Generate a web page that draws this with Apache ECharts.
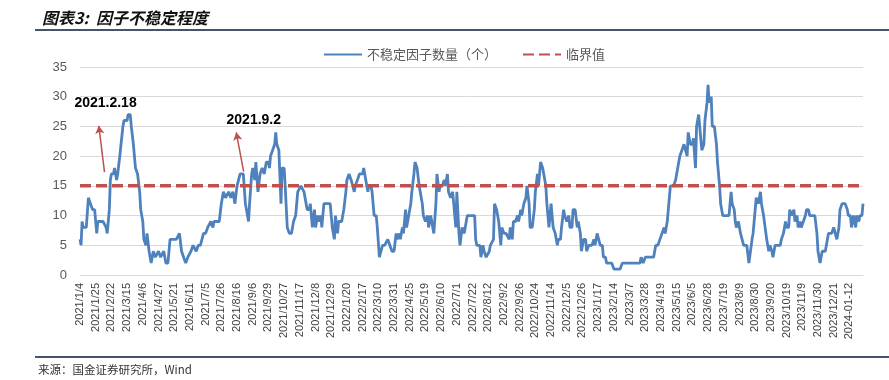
<!DOCTYPE html>
<html>
<head>
<meta charset="utf-8">
<script src="https://cdn.jsdelivr.net/npm/echarts@6/dist/echarts.min.js"></script>
<style>
  html, body { margin: 0; padding: 0; background: #fff; }
  #chart { width: 889px; height: 380px; }
</style>
</head>
<body>
<div id="chart"></div>
<script>
// x-axis tick labels, one every 15 trading days
var tickLabels = [
    '2021/1/4', '2021/1/25', '2021/2/22', '2021/3/15', '2021/4/6', '2021/4/27', '2021/5/21',
    '2021/6/11', '2021/7/5', '2021/7/26', '2021/8/16', '2021/9/6', '2021/9/29', '2021/10/27',
    '2021/11/17', '2021/12/8', '2021/12/29', '2022/1/20', '2022/2/17', '2022/3/10', '2022/3/31',
    '2022/4/25', '2022/5/19', '2022/6/10', '2022/7/1', '2022/7/22', '2022/8/12', '2022/9/2',
    '2022/9/26', '2022/10/24', '2022/11/14', '2022/12/5', '2022/12/26', '2023/1/17', '2023/2/14',
    '2023/3/7', '2023/3/28', '2023/4/19', '2023/5/15', '2023/6/5', '2023/6/28', '2023/7/19',
    '2023/8/9', '2023/8/30', '2023/9/20', '2023/10/19', '2023/11/9', '2023/11/30', '2023/12/21',
    '2024-01-12'
];
var tickStep = 15;

// trading-day index (from 2021/1/4) and number of unstable factors
var dayIdx = [
    0, 1, 2, 3, 6, 8, 10, 12, 14, 16, 17, 20, 22, 25, 26, 28, 29, 30, 32, 33, 35, 36, 38, 41, 42, 45, 46, 48, 49,
    51, 53, 55, 57, 58, 60, 61, 63, 64, 66, 68, 70, 72, 75, 77, 80, 82, 84, 86, 88, 92, 95, 97, 99,
    101, 103, 106, 108, 111, 113, 115, 118, 120, 122, 125, 127, 128, 131, 133, 135, 137, 139, 142, 144, 146, 148,
    150, 153, 156, 158, 159, 161, 162, 164, 165, 167, 168, 170, 172, 174, 176, 178, 180, 181, 182, 184, 186, 187, 188, 190,
    192, 193, 195, 196, 198, 200, 202, 204, 206, 208, 209, 211, 212, 214, 216, 217, 219, 220, 222, 224, 225, 227, 228,
    230, 231, 233, 235, 237, 239, 241, 243, 244, 246, 247, 250, 252, 254, 255, 257, 259, 260, 262, 263, 265, 267,
    270, 271, 273, 275, 276, 278, 279, 281, 283, 284, 286, 287, 289, 291, 294, 296, 298, 300,
    302, 303, 305, 306, 308, 309, 311, 312, 314, 316, 317, 319, 320, 322, 324, 325, 327, 328, 330, 332, 333, 335, 336,
    338, 340, 341, 343, 344, 346, 348, 349, 351, 352, 354, 356, 357, 359, 360, 362, 363, 365, 367, 368, 370, 372, 375,
    377, 378, 379, 382, 383, 385, 386, 388, 391, 392, 395, 396, 398, 400, 402, 403, 405, 407, 408, 410, 411, 413, 414,
    416, 418, 419, 421, 422, 424, 426, 427, 429, 430, 432, 434, 435, 437, 438, 440, 442, 443, 445, 446, 448, 450, 451,
    452, 454, 456, 457, 459, 460, 462, 463, 465, 467, 468, 470, 471, 473, 475, 476, 478, 479, 481, 483, 484, 486, 489,
    491, 492, 494, 495, 497, 499, 500, 502, 503, 508, 510, 516, 518, 535, 536, 538, 540, 548, 550, 552, 554, 556, 558,
    559, 561, 562, 564, 565, 567, 569, 570, 572, 573, 575, 577, 578, 580, 581, 583, 585, 586, 588, 589, 591, 593, 594,
    596, 597, 599, 600, 601, 603,
    604, 606, 608, 609, 611, 612, 614, 616, 618, 620, 622, 623, 625, 626, 627, 629, 631, 632, 634, 635, 637, 639, 640,
    642, 643, 645, 646, 648, 650, 651, 653, 654, 656, 658, 659, 661, 662, 664, 669, 670, 672, 674, 675, 677, 678, 680,
    682, 683, 685, 686, 688, 689, 691, 693, 694, 696, 697, 702, 704, 705, 707, 709, 712, 713, 715, 718, 720, 721, 723,
    725, 726, 728, 729, 731, 733, 734, 736, 737, 739, 741, 742, 744, 745, 747, 748
];
var factorCount = [
    6, 5, 9, 8, 8, 13, 12, 11, 11, 7, 9, 9, 9, 8, 7, 11, 16, 17, 17, 18, 16, 17, 20, 25, 26, 26, 27, 27, 25,
    22, 18, 17, 14, 11, 9, 6, 5, 7, 4, 2, 4, 3, 4, 3, 4, 2, 2, 6, 6, 6, 7, 4, 3,
    2, 3, 4, 5, 4, 5, 5, 7, 7, 8, 9, 8, 9, 9, 9, 12, 14, 13, 14, 13, 14, 12,
    15, 17, 17, 12, 11, 9, 12, 17, 18, 16, 19, 14, 17, 18, 17, 19, 19, 18, 20, 21, 22, 24, 22, 21,
    12, 18, 18, 15, 8, 7, 7, 9, 10, 14, 14, 15, 15, 14, 12, 11, 11, 12, 8, 11, 8, 10, 9,
    10, 8, 12, 12, 12, 12, 8, 6, 10, 7, 9, 9, 11, 14, 16, 17, 16, 16, 14, 15, 16, 17,
    17, 18, 16, 14, 15, 15, 14, 10, 10, 8, 3, 3, 5, 5, 6, 5, 4, 4,
    7, 6, 7, 6, 8, 7, 11, 8, 10, 12, 14, 17, 19, 18, 15, 14, 12, 10, 9, 10, 8, 10, 10,
    7, 12, 17, 14, 15, 15, 16, 15, 17, 14, 13, 14, 12, 8, 14, 7, 5, 8, 7, 8, 10, 10, 10,
    10, 6, 5, 5, 3, 5, 4, 3, 4, 5, 6, 12, 11, 9, 5, 8, 7, 7, 7, 6, 8, 6, 9,
    9, 10, 9, 11, 10, 12, 13, 15, 12, 8, 8, 11, 14, 17, 15, 19, 18, 17, 15, 12, 8, 12, 10,
    8, 7, 5, 6, 6, 8, 11, 10, 9, 10, 8, 8, 11, 11, 8, 9, 7, 4, 6, 6, 4, 5, 5,
    6, 5, 7, 7, 5, 5, 3, 3, 2, 2, 1, 1, 2, 2, 3, 2, 3, 3, 5, 5, 6, 7, 8,
    7, 9, 9, 15, 15, 15, 16, 17, 19, 20, 21, 22, 22, 20, 24, 22, 22, 23, 18, 25, 27, 23, 21,
    22, 26, 29, 32, 29, 30,
    25, 25, 22, 19, 15, 12, 10, 10, 10, 10, 14, 12, 11, 9, 8, 9, 7, 7, 5, 5, 5, 2, 2,
    6, 7, 11, 13, 12, 14, 12, 10, 10, 6, 4, 5, 4, 3, 5, 5, 6, 7, 9, 8, 8, 11, 10,
    11, 9, 10, 8, 9, 8, 9, 10, 11, 11, 10, 10, 7, 4, 2, 4, 4, 5, 7, 7, 8, 8, 6,
    8, 11, 12, 12, 12, 11, 10, 10, 8, 10, 8, 10, 9, 10, 10, 12
];
var threshold = 15;

// callouts: text position and arrow (tail -> head), in axis units
var callouts = [
    { text: '2021.2.18', at: [24.4, 28.9], tail: [23.4, 17.3], head: [18, 25.1] },
    { text: '2021.9.2', at: [166, 26.1], tail: [156.3, 17.4], head: [149.3, 24.0] }
];

var seriesName = '不稳定因子数量（个）';
var thresholdName = '临界值';

function chartFactors() {
    var dom = document.getElementById('chart');
    var myChart = echarts.init(dom, null, { renderer: 'canvas' });

    var lineData = dayIdx.map(function (d, i) { return [d, factorCount[i]]; });
    var first = dayIdx[0], last = dayIdx[dayIdx.length - 1];

    var option = {
        animation: false,
        backgroundColor: '#fff',
        title: {
            text: '图表3:  因子不稳定程度',
            left: 37,
            top: 5,
            textStyle: {
                fontFamily: 'Noto Sans CJK SC',
                fontStyle: 'italic',
                fontWeight: 'bold',
                fontSize: 16,
                color: '#111'
            }
        },
        legend: {
            left: 318,
            top: 43,
            itemWidth: 38,
            itemHeight: 12,
            itemGap: 25,
            data: [seriesName, thresholdName],
            itemStyle: { opacity: 0 },
            textStyle: {
                fontFamily: 'Noto Sans CJK SC',
                fontSize: 13,
                color: '#595959'
            }
        },
        grid: {
            left: 80,
            right: 26,
            top: 67,
            bottom: 105
        },
        xAxis: {
            type: 'value',
            min: first,
            max: last,
            interval: tickStep,
            axisLine: { lineStyle: { color: '#d9d9d9', width: 1 } },
            axisTick: { show: false },
            splitLine: { show: false },
            axisLabel: {
                rotate: 90,
                margin: 8,
                fontFamily: 'Liberation Sans',
                fontSize: 11,
                color: '#404040',
                showMaxLabel: false,
                formatter: function (v) {
                    var i = v / tickStep;
                    return (i % 1 === 0 && tickLabels[i]) ? tickLabels[i] : '';
                }
            }
        },
        yAxis: {
            type: 'value',
            min: 0,
            max: 35,
            interval: 5,
            axisLine: { show: false },
            axisTick: { show: false },
            splitLine: { lineStyle: { color: '#d9d9d9', width: 1 } },
            axisLabel: {
                margin: 13,
                fontFamily: 'Liberation Sans',
                fontSize: 13,
                color: '#595959'
            }
        },
        series: [{
            name: seriesName,
            type: 'line',
            data: lineData,
            symbol: 'none',
            lineStyle: { color: '#4F81BD', width: 2.8 },
            itemStyle: { color: '#4F81BD' },
            z: 3,
            markPoint: {
                symbol: 'circle',
                symbolSize: 0,
                silent: true,
                label: {
                    show: true,
                    position: 'inside',
                    formatter: '{b}',
                    fontFamily: 'Liberation Sans',
                    fontWeight: 'bold',
                    fontSize: 14,
                    color: '#000'
                },
                data: callouts.map(function (c) {
                    return { name: c.text, coord: c.at };
                })
            },
            markLine: {
                silent: true,
                symbol: ['none', 'arrow'],
                symbolSize: [7, 8],
                label: { show: false },
                lineStyle: { color: '#C0504D', width: 1.5, type: 'solid' },
                data: callouts.map(function (c) {
                    return [{ coord: c.tail }, { coord: c.head }];
                })
            }
        }, {
            name: thresholdName,
            type: 'line',
            data: [[first, threshold], [last, threshold]],
            symbol: 'none',
            lineStyle: { color: '#C0504D', width: 3.5, type: [11, 5] },
            itemStyle: { color: '#C0504D' },
            z: 4
        }],
        graphic: [{
            type: 'line',
            shape: { x1: 35, y1: 30, x2: 889, y2: 30 },
            style: { stroke: '#44546a', lineWidth: 2 }
        }, {
            type: 'line',
            shape: { x1: 35, y1: 357, x2: 889, y2: 357 },
            style: { stroke: '#44546a', lineWidth: 2 }
        }, {
            type: 'text',
            left: 38,
            top: 364,
            style: {
                text: '来源：国金证券研究所，Wind',
                font: '11.5px "Noto Sans CJK SC"',
                fill: '#333'
            }
        }]
    };

    myChart.setOption(option, true);
}

chartFactors();
</script>
</body>
</html>
